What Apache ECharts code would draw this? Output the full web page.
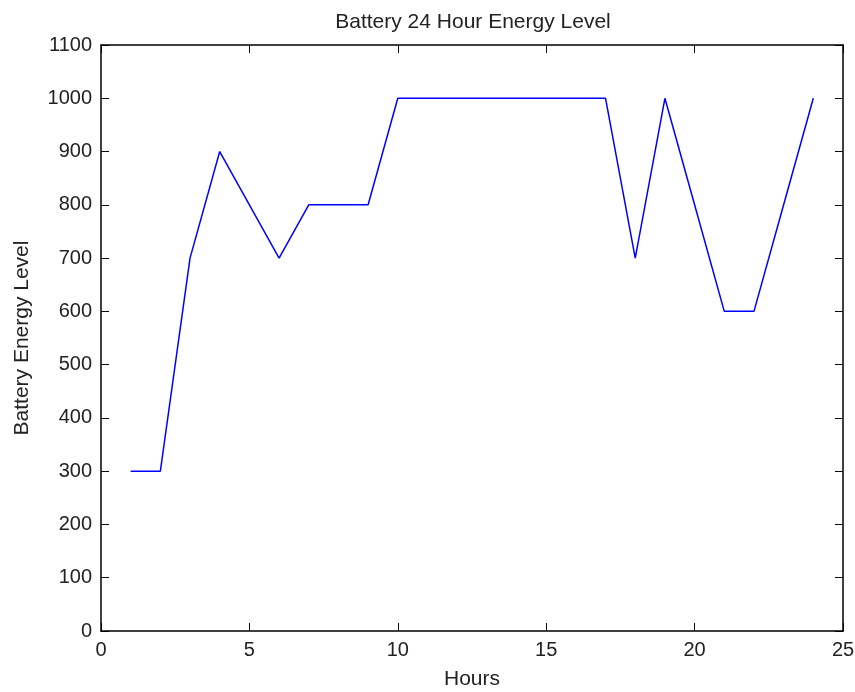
<!DOCTYPE html>
<html>
<head>
<meta charset="utf-8">
<script src="https://cdn.jsdelivr.net/npm/echarts@6/dist/echarts.min.js"></script>
<style>
  html, body { margin: 0; padding: 0; background: #fff; }
  #chart { width: 855px; height: 692px; }
</style>
</head>
<body>
<div id="chart"></div>
<script>
// Hourly battery energy level over one day
const hours = [1, 2, 3, 4, 5, 6, 7, 8, 9, 10, 11, 12, 13, 14, 15, 16, 17, 18, 19, 20, 21, 22, 23, 24];
const energyLevel = [300, 300, 700, 900, 800, 700, 800, 800, 800, 1000, 1000, 1000, 1000, 1000, 1000, 1000, 1000, 700, 1000, 800, 600, 600, 800, 1000];

const titleText = 'Battery 24 Hour Energy Level';
const xName = 'Hours';
const yName = 'Battery Energy Level';

const fontFamily = 'Liberation Sans, Arial, sans-serif';
const textColor = '#222';

const points = hours.map((h, i) => [h, energyLevel[i]]);

const boxAxisLine = { show: true, onZero: false, lineStyle: { color: '#000', width: 1.5 } };
const inTick = { show: true, inside: true, length: 8, lineStyle: { color: '#000', width: 1 } };
const plain = v => String(v);

const chart = echarts.init(document.getElementById('chart'), null, { renderer: 'canvas' });
chart.setOption({
  backgroundColor: '#fff',
  animation: false,
  title: {
    text: titleText,
    left: 468, top: 7, textAlign: 'center',
    textStyle: { fontFamily, fontSize: 21, fontWeight: 'normal', color: textColor }
  },
  grid: { left: 101, right: 12, top: 45, bottom: 61, containLabel: false, outerBoundsMode: 'none' },
  xAxis: [
    {
      type: 'value', min: 0, max: 25, interval: 5, position: 'bottom',
      name: xName, nameLocation: 'middle', nameGap: 38,
      nameTextStyle: { fontFamily, fontSize: 21, color: textColor },
      axisLine: boxAxisLine, axisTick: inTick,
      axisLabel: { fontFamily, fontSize: 20, color: textColor, margin: 9, formatter: plain },
      splitLine: { show: false }
    },
    {
      type: 'value', min: 0, max: 25, interval: 5, position: 'top',
      axisLine: boxAxisLine, axisTick: inTick,
      axisLabel: { show: false }, splitLine: { show: false }
    }
  ],
  yAxis: [
    {
      type: 'value', min: 0, max: 1100, interval: 100, position: 'left',
      name: yName, nameLocation: 'middle', nameGap: 68, nameRotate: 90,
      nameTextStyle: { fontFamily, fontSize: 21, color: textColor },
      axisLine: boxAxisLine, axisTick: inTick,
      axisLabel: { fontFamily, fontSize: 20, color: textColor, margin: 9, formatter: plain },
      splitLine: { show: false }
    },
    {
      type: 'value', min: 0, max: 1100, interval: 100, position: 'right',
      axisLine: boxAxisLine, axisTick: inTick,
      axisLabel: { show: false }, splitLine: { show: false }
    }
  ],
  series: [{
    type: 'line',
    data: points,
    xAxisIndex: 0, yAxisIndex: 0,
    showSymbol: false,
    lineStyle: { color: '#0000ff', width: 1.5 },
    itemStyle: { color: '#0000ff' }
  }]
});
</script>
</body>
</html>
